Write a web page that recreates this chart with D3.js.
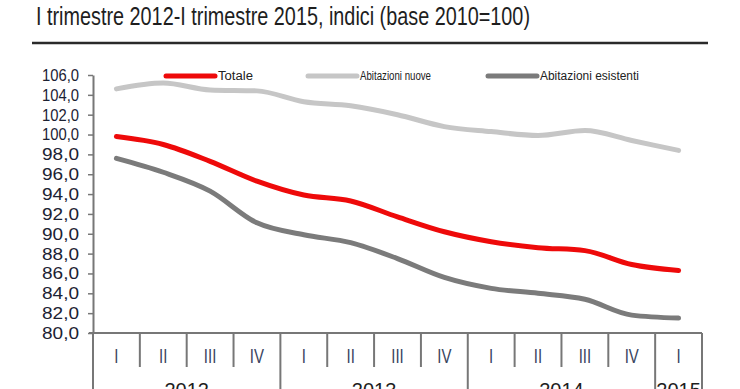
<!DOCTYPE html>
<html>
<head>
<meta charset="utf-8">
<script src="https://cdn.jsdelivr.net/npm/d3@7"></script>
<style>
  body { margin: 0; background: #fff; }
  svg { display: block; }
  text { font-family: "Liberation Sans Narrow", "Liberation Sans", Arial, sans-serif; }
</style>
</head>
<body>
<svg width="740" height="389"></svg>
<script>
// data
var quarters = ['I', 'II', 'III', 'IV', 'I', 'II', 'III', 'IV', 'I', 'II', 'III', 'IV', 'I'];
var yearLabels = ['2012', '2013', '2014', '2015'];
var yearFirst = [0, 4, 8, 12];
var totale = [99.8, 99.0, 97.3, 95.3, 93.9, 93.3, 91.7, 90.2, 89.2, 88.6, 88.3, 86.9, 86.3];
var nuove = [104.6, 105.2, 104.5, 104.4, 103.3, 102.9, 102.0, 100.8, 100.3, 99.9, 100.4, 99.4, 98.4];
var esistenti = [97.6, 96.2, 94.3, 91.1, 89.9, 89.1, 87.5, 85.6, 84.5, 84.0, 83.4, 81.8, 81.5];
var yTicks = d3.range(80, 107, 2);

var series = [
    {name: 'Abitazioni nuove', values: nuove, color: '#c6c6c6'},
    {name: 'Totale', values: totale, color: '#ee0a0a'},
    {name: 'Abitazioni esistenti', values: esistenti, color: '#7b7b7b'}
];

var svg = d3.select('svg');

// title + rule
svg.append('text')
    .attr('x', 36).attr('y', 25)
    .attr('font-size', 26)
    .attr('fill', '#1e1e1e')
    .attr('textLength', 494)
    .attr('lengthAdjust', 'spacingAndGlyphs')
    .text('I trimestre 2012-I trimestre 2015, indici (base 2010=100)');

svg.append('line')
    .attr('x1', 32).attr('x2', 708)
    .attr('y1', 43).attr('y2', 43)
    .attr('stroke', '#2a2a2a')
    .attr('stroke-width', 2.5);

var xScale = d3.scaleBand().domain(d3.range(quarters.length)).range([93, 702]);
var yScale = d3.scaleLinear().domain([80, 106]).range([333, 75]);

// y axis
var yAxis = svg.append('g')
    .attr('transform', 'translate(93,0)')
    .call(d3.axisLeft(yScale).tickValues(yTicks).tickSize(5).tickSizeOuter(0).tickPadding(9)
        .tickFormat(function(d) { return d.toFixed(1).replace('.', ','); }));
yAxis.select('.domain').attr('stroke', '#777').attr('stroke-width', 2);
yAxis.selectAll('.tick line').attr('stroke', '#777').attr('stroke-width', 1.5);
yAxis.selectAll('.tick text')
    .attr('font-size', 17)
    .attr('fill', '#1c2233')
    .attr('textLength', 37)
    .attr('lengthAdjust', 'spacingAndGlyphs');

// x axis: line, quarter and year dividers
var xg = svg.append('g');
xg.append('line')
    .attr('x1', 89).attr('x2', 702)
    .attr('y1', 333).attr('y2', 333)
    .attr('stroke', '#777').attr('stroke-width', 2);

var edges = d3.range(quarters.length + 1);
xg.selectAll('.div')
    .data(edges)
    .enter().append('line')
    .attr('class', 'div')
    .attr('x1', function(i) { return i < quarters.length ? xScale(i) : xScale.range()[1]; })
    .attr('x2', function(i) { return i < quarters.length ? xScale(i) : xScale.range()[1]; })
    .attr('y1', 333)
    .attr('y2', function(i) { return (yearFirst.indexOf(i) >= 0 || i === quarters.length) ? 389 : 367; })
    .attr('stroke', '#777').attr('stroke-width', 2);

xg.selectAll('.q')
    .data(quarters)
    .enter().append('text')
    .attr('x', function(d, i) { return xScale(i) + xScale.bandwidth() / 2; })
    .attr('y', 363)
    .attr('text-anchor', 'middle')
    .attr('font-size', 20)
    .attr('fill', '#3a4560')
    .attr('transform', function(d, i) {
        var cx = xScale(i) + xScale.bandwidth() / 2;
        return 'translate(' + cx + ',0) scale(0.75,1) translate(' + (-cx) + ',0)';
    })
    .text(function(d) { return d; });

xg.selectAll('.yr')
    .data(yearLabels)
    .enter().append('text')
    .attr('x', function(d, i) {
        var last = i < yearFirst.length - 1 ? yearFirst[i + 1] : quarters.length;
        var x0 = xScale(yearFirst[i]);
        var x1 = last < quarters.length ? xScale(last) : xScale.range()[1];
        return (x0 + x1) / 2;
    })
    .attr('y', 397)
    .attr('text-anchor', 'middle')
    .attr('font-size', 20)
    .attr('fill', '#1e1e1e')
    .text(function(d) { return d; });

// lines
var line = d3.line()
    .x(function(d, i) { return xScale(i) + xScale.bandwidth() / 2; })
    .y(function(d) { return yScale(d); })
    .curve(d3.curveMonotoneX);

svg.selectAll('.series')
    .data(series)
    .enter().append('path')
    .attr('class', 'series')
    .attr('fill', 'none')
    .attr('stroke', function(d) { return d.color; })
    .attr('stroke-width', 5)
    .attr('stroke-linecap', 'round')
    .attr('stroke-linejoin', 'round')
    .attr('d', function(d) { return line(d.values); });

// legend
var legend = [
    {name: 'Totale', color: '#ee0a0a', x: 166, w: 35},
    {name: 'Abitazioni nuove', color: '#c6c6c6', x: 308, w: 71},
    {name: 'Abitazioni esistenti', color: '#7b7b7b', x: 488, w: 99}
];
var lg = svg.selectAll('.lg')
    .data(legend)
    .enter().append('g')
    .attr('class', 'lg')
    .attr('transform', function(d) { return 'translate(' + d.x + ',76)'; });
lg.append('line')
    .attr('x1', 0).attr('x2', 49)
    .attr('stroke', function(d) { return d.color; })
    .attr('stroke-width', 5)
    .attr('stroke-linecap', 'round');
lg.append('text')
    .attr('x', 52).attr('y', 4)
    .attr('font-size', 12)
    .attr('fill', '#222')
    .attr('textLength', function(d) { return d.w; })
    .attr('lengthAdjust', 'spacingAndGlyphs')
    .text(function(d) { return d.name; });
</script>
</body>
</html>
